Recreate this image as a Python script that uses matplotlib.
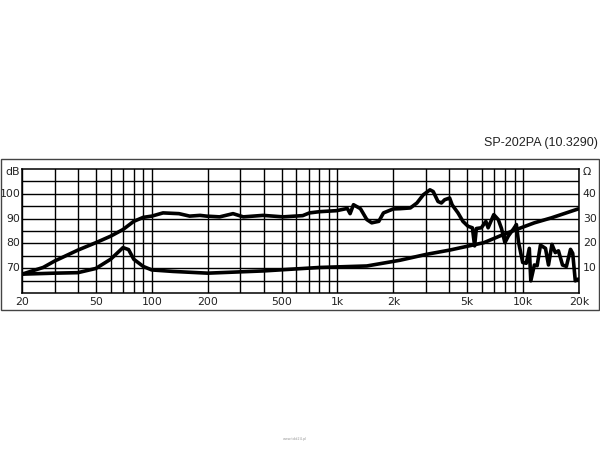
import matplotlib.pyplot as plt
from matplotlib.patches import Rectangle

# SPL curve (dB)
spl_freq = [20, 26, 30, 40, 50, 60, 70, 80, 90, 100, 115, 140, 160, 182, 197, 232, 274, 311,
            398, 450, 509, 650, 707, 803, 990, 1130, 1170, 1220, 1330, 1440, 1530, 1670, 1770,
            2000, 2170, 2470, 2680, 2900, 3150, 3280, 3480, 3630, 3780, 4020, 4150, 4460, 4740,
            5050, 5330, 5480, 5600, 5960, 6300, 6480, 6950, 7350, 7650, 7980, 8330, 8890, 9200,
            9450, 9950, 10400, 10800, 11000, 11500, 11900, 12400, 13200, 13700, 14300, 14900,
            15500, 16300, 17100, 18000, 18500, 19100, 19800]
spl_db = [67.6, 70.3, 72.9, 77.3, 80.3, 82.9, 85.6, 88.9, 90.5, 91.0, 92.3, 92.0, 91.0, 91.3,
          91.0, 90.7, 92.0, 90.7, 91.3, 91.0, 90.7, 91.2, 92.3, 92.8, 93.2, 94.1, 92.0, 95.6,
          94.0, 89.6, 88.3, 88.9, 92.3, 93.9, 94.0, 94.3, 96.3, 99.6, 101.6, 100.9, 96.9, 96.3,
          97.6, 98.3, 95.5, 92.3, 88.9, 86.9, 86.3, 79.0, 86.0, 86.3, 88.9, 86.3, 91.6, 89.6,
          86.0, 80.3, 83.0, 85.9, 87.6, 80.5, 72.3, 72.0, 78.0, 64.9, 71.3, 71.0, 79.3, 78.0,
          71.3, 79.6, 76.3, 77.0, 71.3, 70.7, 77.6, 76.0, 64.9, 65.6]

# impedance curve (ohm)
imp_freq = [20, 30, 40, 50, 60, 70, 75, 80, 90, 100, 130, 200, 400, 800, 1440, 2170, 3020,
            4020, 6150, 7500, 9200, 11500, 14200, 19800]
imp_ohm = [7.6, 8.0, 8.2, 9.9, 13.6, 18.3, 17.5, 13.6, 10.7, 9.3, 8.7, 8.0, 8.9, 10.3, 10.9,
           13.2, 15.6, 17.3, 20.3, 23.0, 25.6, 28.3, 30.3, 33.9]

grid_freqs = [20, 30, 40, 50, 60, 70, 80, 90,
              100, 200, 300, 400, 500, 600, 700, 800, 900,
              1000, 2000, 3000, 4000, 5000, 6000, 7000, 8000, 9000,
              10000, 20000]
freq_labels = {20: '20', 50: '50', 100: '100', 200: '200', 500: '500',
               1000: '1k', 2000: '2k', 5000: '5k', 10000: '10k', 20000: '20k'}
db_labels = [70, 80, 90, 100]
ohm_labels = [10, 20, 30, 40]

fig = plt.figure(figsize=(6, 4.5), dpi=100)
ax = fig.add_axes([22 / 600, 1 - 293 / 450, 557 / 600, 124 / 450])

# outer frame
fig.patches.append(Rectangle((0.5 / 600, 1 - 310 / 450), 598 / 600, 151 / 450,
                             transform=fig.transFigure, fill=False,
                             edgecolor='#444444', linewidth=1.0))

ax.set_xscale('log')
ax.set_xlim(20, 20000)
ax.set_ylim(60, 110)

# grid
for f in grid_freqs:
    ax.axvline(f, color='black', linewidth=1.0, zorder=1)
for d in range(65, 110, 5):
    ax.axhline(d, color='black', linewidth=1.0, zorder=1)
for s in ax.spines.values():
    s.set_linewidth(1.1)

ax.set_xticks([])
ax.set_yticks([])
ax.minorticks_off()

# curves (impedance drawn on the dB scale: ohm + 60)
ax.plot(spl_freq, spl_db, color='black', linewidth=2.6, zorder=3,
        solid_joinstyle='round', solid_capstyle='round')
ax.plot(imp_freq, [v + 60 for v in imp_ohm], color='black', linewidth=2.6, zorder=3,
        solid_joinstyle='round', solid_capstyle='round')

lab = dict(fontsize=7.8, color='#222222', family='DejaVu Sans')
for f, t in freq_labels.items():
    ax.text(f, 56.2, t, ha='center', va='center', **lab)
for d in db_labels:
    ax.text(19.6, d, str(d), ha='right', va='center', **lab)
ax.text(19.6, 108.6, 'dB', ha='right', va='center', **lab)
for o in ohm_labels:
    ax.text(21000, o + 60, str(o), ha='left', va='center', **lab)
ax.text(21000, 108.6, 'Ω', ha='left', va='center', **lab)

fig.text(598 / 600, 1 - 143 / 450, 'SP-202PA (10.3290)', ha='right', va='center',
         fontsize=9, family='Liberation Sans', color='#222222')
fig.text(295 / 600, 1 - 439 / 450, 'www.tdd24.pl', ha='center', va='center',
         fontsize=2.5, color='#999999')

fig.savefig('out.png', dpi=100)
